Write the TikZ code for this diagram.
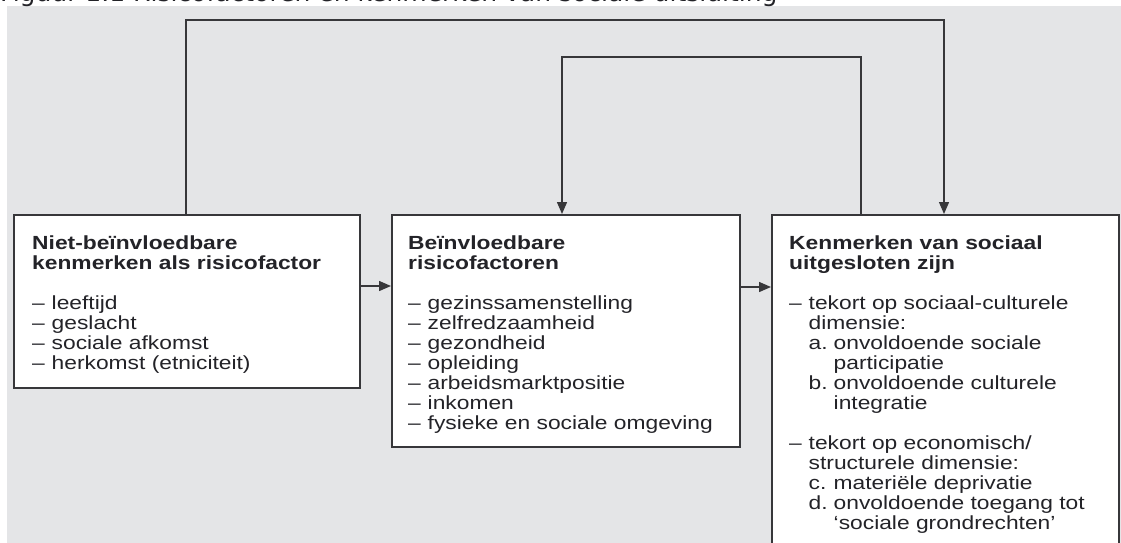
\documentclass[tikz,border=0pt]{standalone}
\usepackage{fontspec}
\setmainfont{Liberation Sans}[FakeStretch=1.2]
\newfontfamily\capfont{DejaVu Sans}
\usetikzlibrary{arrows.meta}
\definecolor{bg}{RGB}{228,229,231}
\definecolor{ln}{RGB}{55,55,58}
\definecolor{tx}{RGB}{35,35,40}
\newcommand\myDash{\makebox[19.5pt][l]{–}}
\newcommand\myInd{\hspace*{19.5pt}}
\newcommand\myLab[1]{\makebox[25pt][l]{#1}}
\newcommand\myTop{\rule{0pt}{15pt}}
\begin{document}
\begin{tikzpicture}[x=1pt,y=-1pt,
  box/.style={draw=ln, line width=1.6pt, fill=white, rectangle, inner sep=0pt},
  txt/.style={anchor=north west, align=left, inner sep=0pt, text=tx, font=\fontsize{19}{20}\selectfont},
  conn/.style={draw=ln, line width=1.4pt},
  arr/.style={conn, -{Triangle[length=12pt,width=10pt]}}]
\useasboundingbox (0,0) rectangle (1121,543);
\fill[bg] (7,6) rectangle (1121,543);
\node[anchor=base west, inner sep=0pt, text=tx, font=\capfont\fontsize{25}{27}\selectfont] (cap) at (0,2) {Figuur 1.1 Risicofactoren en kenmerken van sociale uitsluiting};
\node[box, minimum width=346pt, minimum height=173pt, anchor=north west] (b1) at (13,214) {};
\node[box, minimum width=348pt, minimum height=232pt, anchor=north west] (b2) at (391,214) {};
\node[box, minimum width=347pt, minimum height=346pt, anchor=north west] (b3) at (771,214) {};
\node[txt] (t1) at (32,234) {\myTop\textbf{Niet-beïnvloedbare}\\\textbf{kenmerken als risicofactor}\\[20pt]
\myDash leeftijd\\\myDash geslacht\\\myDash sociale afkomst\\\myDash herkomst (etniciteit)};
\node[txt] (t2) at (408,234) {\myTop\textbf{Beïnvloedbare}\\\textbf{risicofactoren}\\[20pt]
\myDash gezinssamenstelling\\\myDash zelfredzaamheid\\\myDash gezondheid\\\myDash opleiding\\\myDash arbeidsmarktpositie\\\myDash inkomen\\\myDash fysieke en sociale omgeving};
\node[txt] (t3) at (789,234) {\myTop\textbf{Kenmerken van sociaal}\\\textbf{uitgesloten zijn}\\[20pt]
\myDash tekort op sociaal-culturele\\\myInd dimensie:\\\myInd\myLab{a.}onvoldoende sociale\\\myInd\myInd\hspace*{5.5pt}participatie\\\myInd\myLab{b.}onvoldoende culturele\\\myInd\myInd\hspace*{5.5pt}integratie\\[20pt]
\myDash tekort op economisch/\\\myInd structurele dimensie:\\\myInd\myLab{c.}materiële deprivatie\\\myInd\myLab{d.}onvoldoende toegang tot\\\myInd\myInd\hspace*{5.5pt}‘sociale grondrechten’};
\coordinate (o1) at (186,20);
\coordinate (o2) at (944,20);
\coordinate (i1) at (861,57);
\coordinate (i2) at (562,57);
\coordinate (h1) at (0,286);
\coordinate (h2) at (0,287);
\draw[arr] (b1.north -| o1) |- (o2) -- (b3.north -| o2);
\draw[arr] (b3.north -| i1) |- (i2) -- (b2.north -| i2);
\draw[arr] (b1.east |- h1) -- (b2.west |- h1);
\draw[arr] (b2.east |- h2) -- (b3.west |- h2);
\end{tikzpicture}
\end{document}
